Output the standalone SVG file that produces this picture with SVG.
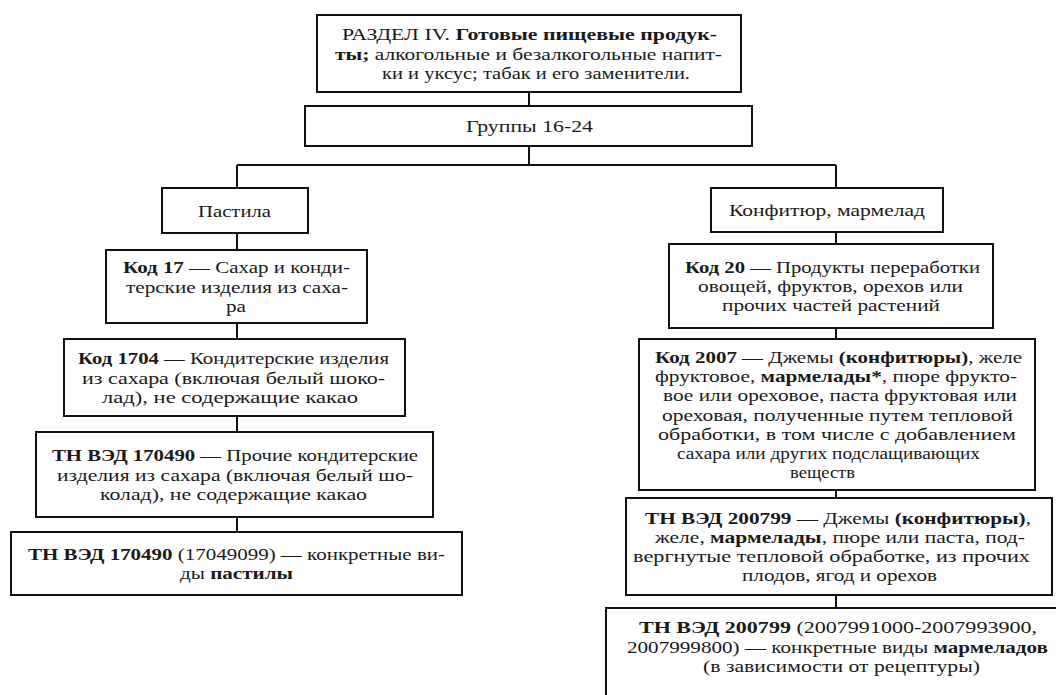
<svg xmlns="http://www.w3.org/2000/svg" width="1056" height="695" viewBox="0 0 1056 695" font-family="'Liberation Serif', 'DejaVu Serif', 'Times New Roman', serif">
<style>
.box{fill:#fff;stroke:#111;stroke-width:2}
.ln{stroke:#111;stroke-width:2;fill:none}
text{font-family:'Liberation Serif','DejaVu Serif','Times New Roman',serif;font-size:17.3px;fill:#1a1a1a}
.b{font-weight:bold}
</style>
<rect width="1056" height="695" fill="#fff"/>
<g id="connectors">
<path class="ln" d="M529 92V106M529 146V165M237 165H836M237 165V188M836 165V188M237 233V250M237 323V339M237 416V432M237 517V532M836 232V244M836 328V339M836 490V498M836 595V608"/>
</g>
<g id="n-razdel">
<rect class="box" x="317" y="15" width="424" height="77"/>
<text x="342" y="40.3" textLength="375" lengthAdjust="spacingAndGlyphs">РАЗДЕЛ IV. <tspan class="b">Готовые пищевые продук-</tspan></text>
<text x="335" y="59.5" textLength="387" lengthAdjust="spacingAndGlyphs"><tspan class="b">ты;</tspan> алкогольные и безалкогольные напит-</text>
<text x="382" y="78.7" textLength="308" lengthAdjust="spacingAndGlyphs">ки и уксус; табак и его заменители.</text>
</g>
<g id="n-groups">
<rect class="box" x="305" y="106" width="447" height="40"/>
<text x="466" y="132" textLength="127" lengthAdjust="spacingAndGlyphs">Группы 16-24</text>
</g>
<g id="n-pastila">
<rect class="box" x="162" y="188" width="146" height="45"/>
<text x="198" y="217" textLength="73" lengthAdjust="spacingAndGlyphs">Пастила</text>
</g>
<g id="n-konf">
<rect class="box" x="711" y="188" width="232" height="44"/>
<text x="729" y="216" textLength="196" lengthAdjust="spacingAndGlyphs">Конфитюр, мармелад</text>
</g>
<g id="n-kod17">
<rect class="box" x="106" y="250" width="261" height="73"/>
<text x="123" y="273.3" textLength="227" lengthAdjust="spacingAndGlyphs"><tspan class="b">Код 17</tspan> — Сахар и конди-</text>
<text x="126" y="292.5" textLength="222" lengthAdjust="spacingAndGlyphs">терские изделия из саха-</text>
<text x="226" y="311.7" textLength="20" lengthAdjust="spacingAndGlyphs">ра</text>
</g>
<g id="n-kod1704">
<rect class="box" x="64" y="339" width="341" height="77"/>
<text x="78" y="364.3" textLength="311" lengthAdjust="spacingAndGlyphs"><tspan class="b">Код 1704</tspan> — Кондитерские изделия</text>
<text x="82" y="383.5" textLength="303" lengthAdjust="spacingAndGlyphs">из сахара (включая белый шоко-</text>
<text x="102" y="402.7" textLength="256" lengthAdjust="spacingAndGlyphs">лад), не содержащие какао</text>
</g>
<g id="n-tnved170490">
<rect class="box" x="36" y="432" width="397" height="85"/>
<text x="52" y="461.3" textLength="366" lengthAdjust="spacingAndGlyphs"><tspan class="b">ТН ВЭД 170490</tspan> — Прочие кондитерские</text>
<text x="57" y="480.5" textLength="356" lengthAdjust="spacingAndGlyphs">изделия из сахара (включая белый шо-</text>
<text x="100" y="499.7" textLength="267" lengthAdjust="spacingAndGlyphs">колад), не содержащие какао</text>
</g>
<g id="n-tnved17049099">
<rect class="box" x="11" y="532" width="451" height="63"/>
<text x="28" y="559.9" textLength="417" lengthAdjust="spacingAndGlyphs"><tspan class="b">ТН ВЭД 170490</tspan> (17049099) — конкретные ви-</text>
<text x="180" y="579.1" textLength="113" lengthAdjust="spacingAndGlyphs">ды <tspan class="b">пастилы</tspan></text>
</g>
<g id="n-kod20">
<rect class="box" x="669" y="244" width="324" height="84"/>
<text x="685" y="272.8" textLength="295" lengthAdjust="spacingAndGlyphs"><tspan class="b">Код 20</tspan> — Продукты переработки</text>
<text x="698" y="292" textLength="265" lengthAdjust="spacingAndGlyphs">овощей, фруктов, орехов или</text>
<text x="722" y="311.2" textLength="218" lengthAdjust="spacingAndGlyphs">прочих частей растений</text>
</g>
<g id="n-kod2007">
<rect class="box" x="639" y="339" width="396" height="151"/>
<text x="655" y="362.9" textLength="367" lengthAdjust="spacingAndGlyphs"><tspan class="b">Код 2007</tspan> — Джемы <tspan class="b">(конфитюры)</tspan>, желе</text>
<text x="655" y="382.1" textLength="362" lengthAdjust="spacingAndGlyphs">фруктовое, <tspan class="b">мармелады*</tspan>, пюре фрукто-</text>
<text x="663" y="401.3" textLength="354" lengthAdjust="spacingAndGlyphs">вое или ореховое, паста фруктовая или</text>
<text x="662" y="420.5" textLength="351" lengthAdjust="spacingAndGlyphs">ореховая, полученные путем тепловой</text>
<text x="658" y="439.7" textLength="358" lengthAdjust="spacingAndGlyphs">обработки, в том числе с добавлением</text>
<text x="677" y="458.9" textLength="303" lengthAdjust="spacingAndGlyphs">сахара или других подслащивающих</text>
<text x="790" y="478.1" textLength="65" lengthAdjust="spacingAndGlyphs">веществ</text>
</g>
<g id="n-tnved200799">
<rect class="box" x="626" y="498" width="426" height="97"/>
<text x="645" y="523.7" textLength="386" lengthAdjust="spacingAndGlyphs"><tspan class="b">ТН ВЭД 200799</tspan> — Джемы <tspan class="b">(конфитюры)</tspan>,</text>
<text x="655" y="542.9" textLength="370" lengthAdjust="spacingAndGlyphs">желе, <tspan class="b">мармелады</tspan>, пюре или паста, под-</text>
<text x="633" y="562.1" textLength="397" lengthAdjust="spacingAndGlyphs">вергнутые тепловой обработке, из прочих</text>
<text x="742" y="581.3" textLength="195" lengthAdjust="spacingAndGlyphs">плодов, ягод и орехов</text>
</g>
<g id="n-marmelady">
<rect class="box" x="606" y="608" width="460" height="100"/>
<text x="639" y="633.4" textLength="398" lengthAdjust="spacingAndGlyphs"><tspan class="b">ТН ВЭД 200799</tspan> (2007991000-2007993900,</text>
<text x="627" y="652.6" textLength="421" lengthAdjust="spacingAndGlyphs">2007999800) — конкретные виды <tspan class="b">мармеладов</tspan></text>
<text x="703" y="671.8" textLength="277" lengthAdjust="spacingAndGlyphs">(в зависимости от рецептуры)</text>
</g>
</svg>
